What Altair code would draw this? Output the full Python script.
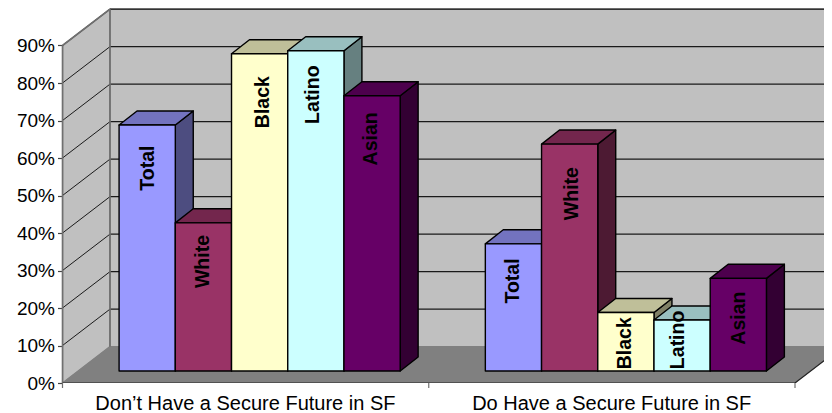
import altair as alt
import pandas as pd

groups = ["Don\u2019t Have a Secure Future in SF", "Do Have a Secure Future in SF"]
series = ["Total", "White", "Black", "Latino", "Asian"]
dont_have = [65.6, 39.5, 84.6, 85.4, 73.4]
do_have = [33.9, 60.5, 15.6, 13.6, 24.7]
colors = ["#9999ff", "#993366", "#ffffcc", "#ccffff", "#660066"]
tops = ["#7373bf", "#73264d", "#bfbf99", "#99bfbf", "#4d004d"]
sides = ["#4d4d80", "#4d1a33", "#808066", "#668080", "#330033"]
# distance of each label's centre below its bar top, in percentage points
label_drop = [[11.5, 10.3, 12.9, 11.7, 11.5], [9.9, 13.2, 8.2, 5.3, 10.6]]
# sideways shift of each label from its bar's centre, in category units
label_shift = [[0.003, 0.0, 0.009, -0.009, -0.003], [0.0, 0.007, -0.002, -0.012, 0.002]]
ticks = list(range(0, 100, 10))

PAD_LEFT, PLOT_W, PLOT_H = 54.5, 761.5, 375
XMAX, YMAX = 761.5 / 366.25, 100
WALL_DX, WALL_DY = 0.1297, 9.7
BAR_X0, BAR_W = 0.1545, 0.1535
BAR_BASE, BAR_DX, BAR_DY = 3.2, 0.049, 3.75

xs = alt.Scale(domain=[0, XMAX], nice=False, zero=False)
ys = alt.Scale(domain=[0, YMAX], nice=False, zero=False)

AX = alt.Axis(
    values=[0.498, 1.498], domain=False, ticks=False, grid=False, labelFontSize=20, labelFont="Liberation Sans",
    labelColor="black", labelPadding=10, labelExpr=f"datum.value < 1 ? '{groups[0]}' : '{groups[1]}'",
    labelOverlap=False, labelFlush=False, labelLimit=600, title=None)
AY = alt.Axis(
    values=ticks, domain=False, tickSize=5, tickColor="#444444", tickWidth=1.2, grid=False, labelFontSize=19,
    labelFont="Liberation Sans", labelColor="black", labelPadding=3,
    labelExpr="datum.value + '%'", title=None)
EX = alt.X("x:Q", scale=xs, axis=AX, title=None)
EY = alt.Y("y:Q", scale=ys, axis=AY, title=None)


def polys(rows):
    return pd.DataFrame(rows, columns=["poly", "fill", "stroke", "x", "y", "y2"])


def area_layer(df, clip=False, width=1.4):
    return alt.Chart(df).mark_area(orient="vertical", clip=clip, strokeWidth=width, strokeJoin="round").encode(
        x=EX,
        y=EY,
        y2="y2:Q",
        detail=alt.Detail("poly:N"),
        fill=alt.Fill("fill:N", scale=None),
        stroke=alt.Stroke("stroke:N", scale=None),
    )


GREY = "#808080"
left_wall = [("lw", "#c0c0c0", GREY, 0, 0, 90), ("lw", "#c0c0c0", GREY, WALL_DX, WALL_DY, 90 + WALL_DY)]
back_wall = [("bw", "#c0c0c0", GREY, WALL_DX, WALL_DY, 90 + WALL_DY),
             ("bw", "#c0c0c0", GREY, 2 + WALL_DX, WALL_DY, 90 + WALL_DY)]
floor = [("fl", GREY, GREY, 0, 0, 0), ("fl", GREY, GREY, WALL_DX, 0, WALL_DY),
         ("fl", GREY, GREY, 2, 0, WALL_DY), ("fl", GREY, GREY, 2 + WALL_DX, WALL_DY, WALL_DY)]
walls = area_layer(polys(left_wall + back_wall), clip=True, width=1.5)
floor_l = area_layer(polys(floor), clip=True, width=0.5)

back_grid = pd.DataFrame(
    [{"t": t, "x": x, "y": t + WALL_DY} for t in ticks[1:] for x in (WALL_DX, 2 + WALL_DX)])
side_grid = pd.DataFrame(
    [{"t": t, "x": x, "y": t + d} for t in ticks[1:] for x, d in ((0, 0), (WALL_DX, WALL_DY))])


def lines(df, color, width=1.0, clip=True):
    return alt.Chart(df).mark_line(color=color, strokeWidth=width, clip=clip).encode(
        x=EX,
        y=EY,
        detail="t:N",
    )


grid = lines(back_grid, "#1a1a1a", 1.2) + lines(side_grid, "#1a1a1a", 1.0)

# outer frame: left edge, back-left edge, front floor edge, right floor edge
frame_grey = pd.DataFrame([
    {"t": "a", "x": 0, "y": 0}, {"t": "a", "x": 0, "y": 90},
    {"t": "b", "x": 0, "y": 90}, {"t": "b", "x": WALL_DX, "y": 90 + WALL_DY},
    {"t": "c", "x": WALL_DX, "y": WALL_DY}, {"t": "c", "x": WALL_DX, "y": 90 + WALL_DY},
])
frame_dark = pd.DataFrame([
    {"t": "d", "x": 0, "y": 0}, {"t": "d", "x": 2, "y": 0},
    {"t": "e", "x": 2, "y": 0}, {"t": "e", "x": 2 + WALL_DX, "y": WALL_DY},
])
frame = lines(frame_grey, "#707070", 1.6, clip=False) + lines(frame_dark, "#222222", 1.2)

rows, labels = [], []
for g, vals in enumerate([dont_have, do_have]):
    for i, v in enumerate(vals):
        x0 = g + BAR_X0 + i * BAR_W
        x1 = x0 + BAR_W
        h = BAR_BASE + v
        key = f"{g}{i}"
        s = "#000000"
        rows += [(key + "a", sides[i], s, x1, BAR_BASE, h),
                 (key + "a", sides[i], s, x1 + BAR_DX, BAR_BASE + BAR_DY, h + BAR_DY)]
        rows += [(key + "b", tops[i], s, x0, h, h),
                 (key + "b", tops[i], s, x0 + BAR_DX, h, h + BAR_DY),
                 (key + "b", tops[i], s, x1, h, h + BAR_DY),
                 (key + "b", tops[i], s, x1 + BAR_DX, h + BAR_DY, h + BAR_DY)]
        rows += [(key + "c", colors[i], s, x0, BAR_BASE, h),
                 (key + "c", colors[i], s, x1, BAR_BASE, h)]
        labels.append({"text": series[i], "x": (x0 + x1) / 2 + label_shift[g][i], "y": h - label_drop[g][i]})

bars = area_layer(polys(rows))
text = alt.Chart(pd.DataFrame(labels)).mark_text(
    angle=270, align="center", baseline="middle", font="Liberation Sans", fontWeight="bold", fontSize=19.5, color="black"
).encode(x=EX, y=EY, text="text:N")

x_ticks = alt.Chart(pd.DataFrame({"x": [0, 1, 2]})).mark_rule(color="#707070", strokeWidth=1.2).encode(
    x=EX, y=alt.value(PLOT_H), y2=alt.value(PLOT_H + 5))

chart = (walls + floor_l + grid + frame + x_ticks + bars + text).properties(
    width=PLOT_W, height=PLOT_H, autosize="none",
    padding={"left": PAD_LEFT, "top": 0, "right": 0, "bottom": 29},
).configure_view(stroke=None)

chart.save("out.html", embed_options={"renderer": "svg", "actions": False})
